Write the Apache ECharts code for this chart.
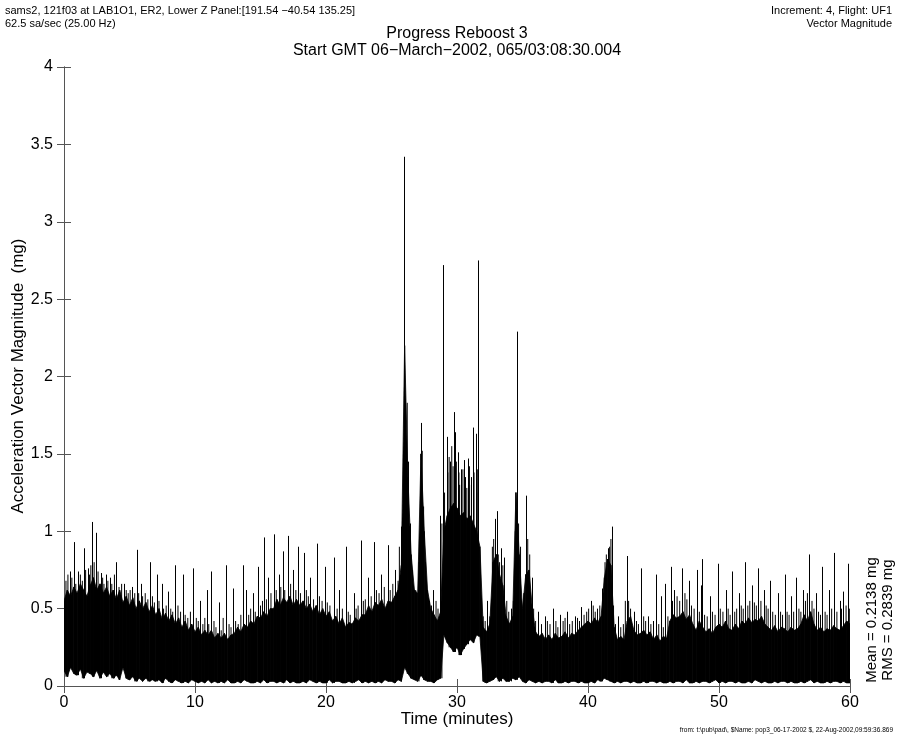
<!DOCTYPE html>
<html>
<head>
<meta charset="utf-8">
<script src="https://cdn.jsdelivr.net/npm/echarts@6/dist/echarts.min.js"></script>
<style>
html,body{margin:0;padding:0;background:#fff;}
#chart{width:899px;height:738px;}
</style>
</head>
<body>
<div id="chart"></div>
<script>
// ---------------- DATA ----------------
// Envelope of the dense signal, one bin every 0.25 minute from 0 to 60 min.
const BIN_MIN = 0.25;
const bodyHigh = [
  0.55,0.62,0.58,0.64, 0.60,0.66,0.62,0.58, 0.65,0.70,0.62,0.66, 0.60,0.64,0.58,0.62,
  0.56,0.62,0.54,0.58, 0.52,0.57,0.50,0.55, 0.50,0.54,0.48,0.52, 0.46,0.50,0.43,0.47,
  0.42,0.46,0.40,0.44, 0.38,0.42,0.36,0.40, 0.35,0.38,0.33,0.36, 0.33,0.36,0.31,0.34,
  0.31,0.34,0.30,0.33, 0.34,0.38,0.35,0.40, 0.38,0.42,0.40,0.45, 0.44,0.48,0.45,0.50,
  0.50,0.56,0.52,0.57, 0.54,0.58,0.52,0.56, 0.52,0.55,0.50,0.53, 0.48,0.52,0.46,0.50,
  0.45,0.48,0.42,0.45, 0.40,0.44,0.38,0.41, 0.40,0.44,0.42,0.46, 0.46,0.52,0.48,0.54,
  0.52,0.56,0.50,0.55, 0.54,0.58,0.62,0.78, 2.20,1.35,0.85,0.62, 0.60,1.50,1.00,0.62,
  0.50,0.46,0.42,0.48, 1.00,1.10,1.15,1.18, 1.15,1.10,1.12,1.08, 1.10,1.05,1.00,0.90,
  0.38,0.35,0.40,0.80, 0.85,0.72,0.65,0.45, 0.40,0.45,1.25,0.85, 0.50,0.72,0.75,0.50,
  0.35,0.32,0.34,0.30, 0.33,0.30,0.34,0.31, 0.32,0.35,0.31,0.34, 0.33,0.36,0.38,0.40,
  0.42,0.40,0.44,0.41, 0.45,0.70,0.82,0.78, 0.38,0.30,0.32,0.30, 0.42,0.45,0.36,0.33,
  0.34,0.36,0.33,0.35, 0.30,0.33,0.29,0.32, 0.31,0.42,0.46,0.44, 0.45,0.48,0.43,0.46,
  0.40,0.36,0.42,0.38, 0.35,0.37,0.34,0.38, 0.40,0.38,0.42,0.37, 0.36,0.40,0.37,0.42,
  0.40,0.44,0.41,0.43, 0.42,0.45,0.40,0.38, 0.36,0.39,0.35,0.38, 0.37,0.35,0.38,0.36,
  0.37,0.40,0.46,0.42, 0.48,0.40,0.36,0.38, 0.35,0.37,0.36,0.39, 0.37,0.36,0.39,0.42,
  0.40
];
const bodyLow = [
  0.10,0.06,0.12,0.08, 0.07,0.11,0.05,0.09, 0.08,0.06,0.10,0.05, 0.09,0.06,0.08,0.05,
  0.07,0.04,0.12,0.05, 0.04,0.06,0.03,0.05, 0.03,0.05,0.03,0.04, 0.03,0.04,0.02,0.05,
  0.03,0.02,0.04,0.03, 0.02,0.03,0.02,0.04, 0.03,0.02,0.03,0.02, 0.04,0.02,0.03,0.02,
  0.03,0.02,0.04,0.02, 0.02,0.03,0.02,0.04, 0.03,0.02,0.02,0.03, 0.02,0.04,0.02,0.03,
  0.03,0.02,0.03,0.02, 0.04,0.02,0.03,0.02, 0.02,0.03,0.02,0.04, 0.03,0.02,0.03,0.02,
  0.02,0.04,0.02,0.03, 0.03,0.02,0.02,0.03, 0.02,0.03,0.04,0.02, 0.03,0.02,0.03,0.02,
  0.03,0.02,0.04,0.03, 0.03,0.02,0.04,0.03, 0.12,0.08,0.05,0.04, 0.03,0.07,0.04,0.03,
  0.03,0.02,0.04,0.05, 0.33,0.28,0.25,0.22, 0.25,0.20,0.24,0.27, 0.30,0.28,0.33,0.32,
  0.03,0.02,0.03,0.04, 0.06,0.03,0.05,0.03, 0.03,0.05,0.04,0.06, 0.03,0.02,0.04,0.03,
  0.02,0.03,0.02,0.03, 0.03,0.02,0.04,0.02, 0.02,0.03,0.02,0.03, 0.03,0.02,0.03,0.02,
  0.02,0.03,0.02,0.04, 0.03,0.05,0.04,0.03, 0.02,0.03,0.02,0.03, 0.03,0.02,0.03,0.02,
  0.02,0.03,0.02,0.03, 0.03,0.02,0.03,0.02, 0.02,0.03,0.02,0.03, 0.03,0.02,0.04,0.02,
  0.02,0.03,0.02,0.03, 0.03,0.02,0.03,0.04, 0.02,0.03,0.02,0.03, 0.03,0.02,0.03,0.02,
  0.02,0.03,0.02,0.04, 0.03,0.02,0.03,0.02, 0.02,0.03,0.02,0.03, 0.03,0.02,0.03,0.02,
  0.02,0.03,0.02,0.03, 0.04,0.02,0.03,0.02, 0.02,0.03,0.02,0.03, 0.03,0.02,0.03,0.02,
  0.02
];
// Tall isolated spikes: time (minutes) and peak value (mg)
const spikeTime = [
  0.46,0.76,1.1,1.53,1.8,2.16,2.44,2.8,3.2,3.5,4.0,4.58,5.2,5.55,5.85,6.56,7.07,7.46,7.96,8.5,
  9.06,9.87,10.4,10.9,11.2,11.8,12.4,12.9,13.7,13.9,14.4,14.8,15.3,15.6,16.0,16.4,16.7,17.1,17.5,17.9,
  18.3,18.8,19.3,19.9,20.6,21.0,21.5,22.1,22.65,23.2,23.66,24.2,24.7,25.3,25.75,25.95,27.25,28.2,28.7,28.95,
  29.2,29.5,29.77,29.87,30.05,30.3,30.56,30.84,31.05,31.2,31.43,31.63,32.3,32.9,33.05,33.35,33.6,34.1,34.6,35.3,
  35.7,36.2,36.7,37.3,37.9,38.4,39.0,39.5,40.2,40.7,41.1,41.5,41.85,42.3,42.95,43.5,44.05,44.6,45.2,45.6,
  45.9,46.3,46.6,47.2,47.7,48.3,48.65,48.7,49.3,49.9,50.5,51.0,51.5,52.0,52.5,53.0,53.4,53.9,54.5,55.0,
  55.5,55.9,56.4,56.9,57.4,57.9,58.4,58.8,59.2,59.5,59.85
];
const spikePeak = [
  0.74,0.93,0.74,0.89,0.76,1.06,0.99,0.73,0.72,0.70,0.80,0.66,0.64,0.88,0.66,0.80,0.72,0.66,0.61,0.78,
  0.72,0.76,0.55,0.62,0.74,0.54,0.78,0.63,0.78,0.62,0.60,0.77,0.96,0.70,0.98,0.72,0.87,0.97,0.75,0.90,
  0.86,0.70,0.92,0.77,0.83,0.62,0.90,0.60,0.94,0.70,0.93,0.72,0.91,0.75,1.03,3.42,1.70,0.62,1.10,2.72,
  1.61,1.45,1.77,1.64,1.51,1.40,1.46,1.47,1.35,1.67,1.63,2.75,0.55,1.08,1.13,0.89,0.83,0.50,2.29,1.23,
  0.70,0.48,0.45,0.50,0.46,0.48,0.45,0.51,0.55,0.50,0.63,0.89,1.03,0.45,0.84,0.48,0.76,0.45,0.72,0.58,
  0.66,0.77,0.62,0.76,0.68,0.75,0.65,0.82,0.58,0.79,0.62,0.74,0.60,0.80,0.65,0.76,0.62,0.68,0.60,0.72,
  0.58,0.70,0.62,0.85,0.60,0.77,0.62,0.86,0.55,0.61,0.79
];
// Short spikes forming the ragged top of the dense band: time (minutes) and peak (mg)
const minorTime = [
  0.15,0.3,0.6,0.9,1.25,1.4,1.65,1.95,2.05,2.3,2.6,2.95,3.05,3.35,3.65,3.85,4.2,4.4,4.75,4.9,
  5.05,5.4,5.7,6.0,6.2,6.4,6.75,6.9,7.25,7.6,7.8,8.15,8.3,8.7,8.9,9.25,9.45,9.65,
  10.1,10.25,10.6,10.75,11.05,11.45,11.6,12.0,12.15,12.6,12.75,13.1,13.3,13.5,14.1,14.25,14.6,15.0,15.15,
  15.45,15.8,16.2,16.55,16.85,17.3,17.7,18.05,18.5,18.65,19.05,19.5,19.7,20.1,20.3,20.85,21.25,21.7,21.85,
  22.3,22.45,22.85,23.0,23.45,23.85,24.05,24.45,24.9,25.1,25.5,25.6,
  26.2,26.3,26.45,26.6,26.85,27.1,27.35,27.45,27.6,27.9,28.05,28.4,28.55,28.85,
  29.05,29.3,29.4,29.6,29.7,29.95,30.15,30.2,30.45,30.65,30.75,30.95,31.1,31.3,31.5,31.55,
  31.8,32.0,32.15,32.5,32.7,32.8,33.15,33.25,33.5,33.8,33.95,34.3,34.45,34.7,34.85,35.1,35.4,35.55,35.85,36.0,
  36.45,36.9,37.1,37.55,37.7,38.1,38.25,38.6,38.8,39.2,39.35,39.7,39.9,40.05,40.4,40.55,40.9,41.3,41.4,41.65,41.75,41.95,
  42.1,42.5,42.7,42.85,43.1,43.25,43.7,43.85,44.25,44.4,44.8,45.0,45.4,45.75,46.1,46.45,46.8,47.0,47.4,47.55,
  47.9,48.1,48.5,48.9,49.1,49.5,49.7,50.1,50.3,50.7,50.85,51.2,51.35,51.7,51.85,52.2,52.35,52.7,52.85,53.2,
  53.6,53.75,54.1,54.3,54.7,54.85,55.2,55.35,55.7,56.1,56.25,56.6,56.75,57.1,57.25,57.6,57.75,58.1,58.25,58.6,
  59.0,59.35,59.7,59.95
];
const minorPeak = [
  0.68,0.72,0.70,0.66,0.72,0.68,0.75,0.72,0.78,0.80,0.74,0.70,0.66,0.68,0.66,0.72,0.64,0.66,0.62,0.60,
  0.62,0.60,0.60,0.58,0.60,0.56,0.58,0.54,0.55,0.50,0.52,0.50,0.48,0.52,0.48,0.46,0.44,0.48,
  0.44,0.42,0.40,0.44,0.40,0.42,0.38,0.36,0.44,0.40,0.38,0.42,0.40,0.46,0.46,0.50,0.48,0.52,0.55,
  0.56,0.60,0.62,0.64,0.62,0.66,0.62,0.60,0.62,0.58,0.56,0.58,0.55,0.54,0.52,0.50,0.50,0.48,0.46,
  0.50,0.52,0.55,0.56,0.58,0.62,0.60,0.64,0.62,0.66,0.68,0.90,
  1.83,1.45,1.05,0.75,0.62,0.80,1.52,1.16,0.80,0.55,0.52,0.55,0.50,1.05,
  1.25,1.38,1.48,1.55,1.42,1.45,1.38,1.30,1.40,1.35,1.28,1.42,1.30,1.38,1.25,1.40,
  0.42,0.45,0.42,0.45,0.90,0.95,0.85,0.80,0.78,0.55,0.48,0.55,1.00,1.05,0.90,0.60,0.95,0.85,0.50,0.42,
  0.40,0.42,0.40,0.42,0.38,0.42,0.44,0.40,0.42,0.44,0.42,0.46,0.48,0.50,0.52,0.48,0.52,0.80,0.85,0.90,0.95,0.52,
  0.40,0.38,0.40,0.55,0.55,0.50,0.42,0.40,0.45,0.42,0.40,0.42,0.40,0.38,0.45,0.55,0.58,0.55,0.60,0.56,
  0.52,0.50,0.48,0.46,0.45,0.48,0.46,0.50,0.48,0.50,0.46,0.48,0.50,0.52,0.50,0.52,0.55,0.54,0.52,0.55,
  0.52,0.50,0.48,0.46,0.48,0.46,0.48,0.46,0.48,0.50,0.48,0.55,0.60,0.55,0.50,0.48,0.46,0.48,0.46,0.50,
  0.48,0.50,0.52,0.50
];
const xTicks = { min: 0, max: 60, interval: 10 };
const yTicks = { min: 0, max: 4, interval: 0.5 };

// ---------------- BUILD ----------------
// one item per segment between two consecutive bins: [t0, lo0, hi0, t1, lo1, hi1]
const segData = [];
for (let i = 0; i < bodyHigh.length - 1; i++) {
  segData.push([i * BIN_MIN, bodyLow[i], bodyHigh[i], (i + 1) * BIN_MIN, bodyLow[i + 1], bodyHigh[i + 1]]);
}
function baseAt(t) { return bodyLow[Math.min(bodyLow.length - 1, Math.max(0, Math.round(t / BIN_MIN)))]; }
const spikeData = spikeTime.map((t, i) => [t, spikePeak[i], baseAt(t)]);
const minorData = minorTime.map((t, i) => [t, minorPeak[i], baseAt(t)]);

const chart = echarts.init(document.getElementById('chart'), null, { renderer: 'canvas' });
const axisCol = '#555';
const FONT = 'Liberation Sans, Arial, Helvetica, sans-serif';

const axisCommon = {
  axisLine: { show: true, lineStyle: { color: axisCol, width: 1 } },
  axisTick: { show: true, inside: false, length: 7, lineStyle: { color: axisCol, width: 1 } },
  splitLine: { show: false }
};

function spikeRenderer(color, snap) {
  return function (params, api) {
    const t = api.value(0), pk = api.value(1), base = api.value(2);
    const a = api.coord([t, base]);
    const b = api.coord([t, pk]);
    const x = snap ? Math.round(a[0]) + 0.5 : a[0];
    return {
      type: 'line',
      shape: { x1: x, y1: a[1], x2: x, y2: b[1] },
      style: { stroke: color, lineWidth: 1 }
    };
  };
}

chart.setOption({
  animation: false,
  backgroundColor: '#fff',
  grid: { left: 64, right: 49, top: 67, bottom: 52, containLabel: false },
  xAxis: [
    Object.assign({ type: 'value', position: 'bottom', min: xTicks.min, max: xTicks.max, interval: xTicks.interval,
      axisLabel: { color: '#000', fontSize: 16, fontFamily: FONT, margin: 9 } }, axisCommon),
    Object.assign({ type: 'value', position: 'top', min: xTicks.min, max: xTicks.max, interval: xTicks.interval,
      axisLabel: { show: false } }, axisCommon)
  ],
  yAxis: [
    Object.assign({ type: 'value', position: 'left', min: yTicks.min, max: yTicks.max, interval: yTicks.interval,
      axisLabel: { color: '#000', fontSize: 16, fontFamily: FONT, margin: 11 } }, axisCommon),
    Object.assign({ type: 'value', position: 'right', min: yTicks.min, max: yTicks.max, interval: yTicks.interval,
      axisLabel: { show: false } }, axisCommon)
  ],
  series: [
    {
      type: 'custom', name: 'body',
      xAxisIndex: 0, yAxisIndex: 0,
      clip: true, silent: true,
      data: segData,
      encode: { x: [0, 3], y: [1, 2, 4, 5] },
      renderItem: function (params, api) {
        const a = api.coord([api.value(0), api.value(2)]);
        const b = api.coord([api.value(3), api.value(5)]);
        const c = api.coord([api.value(3), api.value(4)]);
        const d = api.coord([api.value(0), api.value(1)]);
        return {
          type: 'polygon',
          shape: { points: [a, b, c, d] },
          style: { fill: '#000', stroke: '#000', lineWidth: 0.8 }
        };
      }
    },
    {
      type: 'custom', name: 'minor',
      xAxisIndex: 0, yAxisIndex: 0,
      clip: true, silent: true,
      data: minorData,
      encode: { x: 0, y: [1, 2] },
      renderItem: spikeRenderer('#000', false)
    },
    {
      type: 'custom', name: 'spikes',
      xAxisIndex: 0, yAxisIndex: 0,
      clip: true, silent: true,
      data: spikeData,
      encode: { x: 0, y: [1, 2] },
      renderItem: spikeRenderer('#000', true)
    }
  ],
  graphic: [
    { type: 'text', left: 5, top: 5, style: { text: 'sams2, 121f03 at LAB1O1, ER2, Lower Z Panel:[191.54 \u221240.54 135.25]', font: '11px ' + FONT, fill: '#000' } },
    { type: 'text', left: 5, top: 18, style: { text: '62.5 sa/sec (25.00 Hz)', font: '11px ' + FONT, fill: '#000' } },
    { type: 'text', right: 7, top: 5, style: { text: 'Increment: 4, Flight: UF1', font: '11px ' + FONT, fill: '#000', align: 'right' } },
    { type: 'text', right: 7, top: 18, style: { text: 'Vector Magnitude', font: '11px ' + FONT, fill: '#000', align: 'right' } },
    { type: 'text', x: 457, y: 34, style: { text: 'Progress Reboost 3', font: '16px ' + FONT, fill: '#000', align: 'center', verticalAlign: 'middle' } },
    { type: 'text', x: 457, y: 51, style: { text: 'Start GMT 06\u2212March\u22122002, 065/03:08:30.004', font: '16px ' + FONT, fill: '#000', align: 'center', verticalAlign: 'middle' } },
    { type: 'text', x: 457, y: 719, style: { text: 'Time (minutes)', font: '17px ' + FONT, fill: '#000', align: 'center', verticalAlign: 'middle' } },
    { type: 'text', x: 18, y: 376, rotation: Math.PI / 2, style: { text: 'Acceleration Vector Magnitude  (mg)', font: '17px ' + FONT, fill: '#000', align: 'center', verticalAlign: 'middle' } },
    { type: 'text', x: 872, y: 620, rotation: Math.PI / 2, style: { text: 'Mean = 0.2138 mg', font: '15px ' + FONT, fill: '#000', align: 'center', verticalAlign: 'middle' } },
    { type: 'text', x: 888, y: 620, rotation: Math.PI / 2, style: { text: 'RMS = 0.2839 mg', font: '15px ' + FONT, fill: '#000', align: 'center', verticalAlign: 'middle' } },
    { type: 'text', right: 6, top: 727, style: { text: 'from: t:\\pub\\pad\\, $Name: pop3_06-17-2002 $, 22-Aug-2002,09:59:36.869', font: '6.5px ' + FONT, fill: '#000', align: 'right' } }
  ]
});
</script>
</body>
</html>
